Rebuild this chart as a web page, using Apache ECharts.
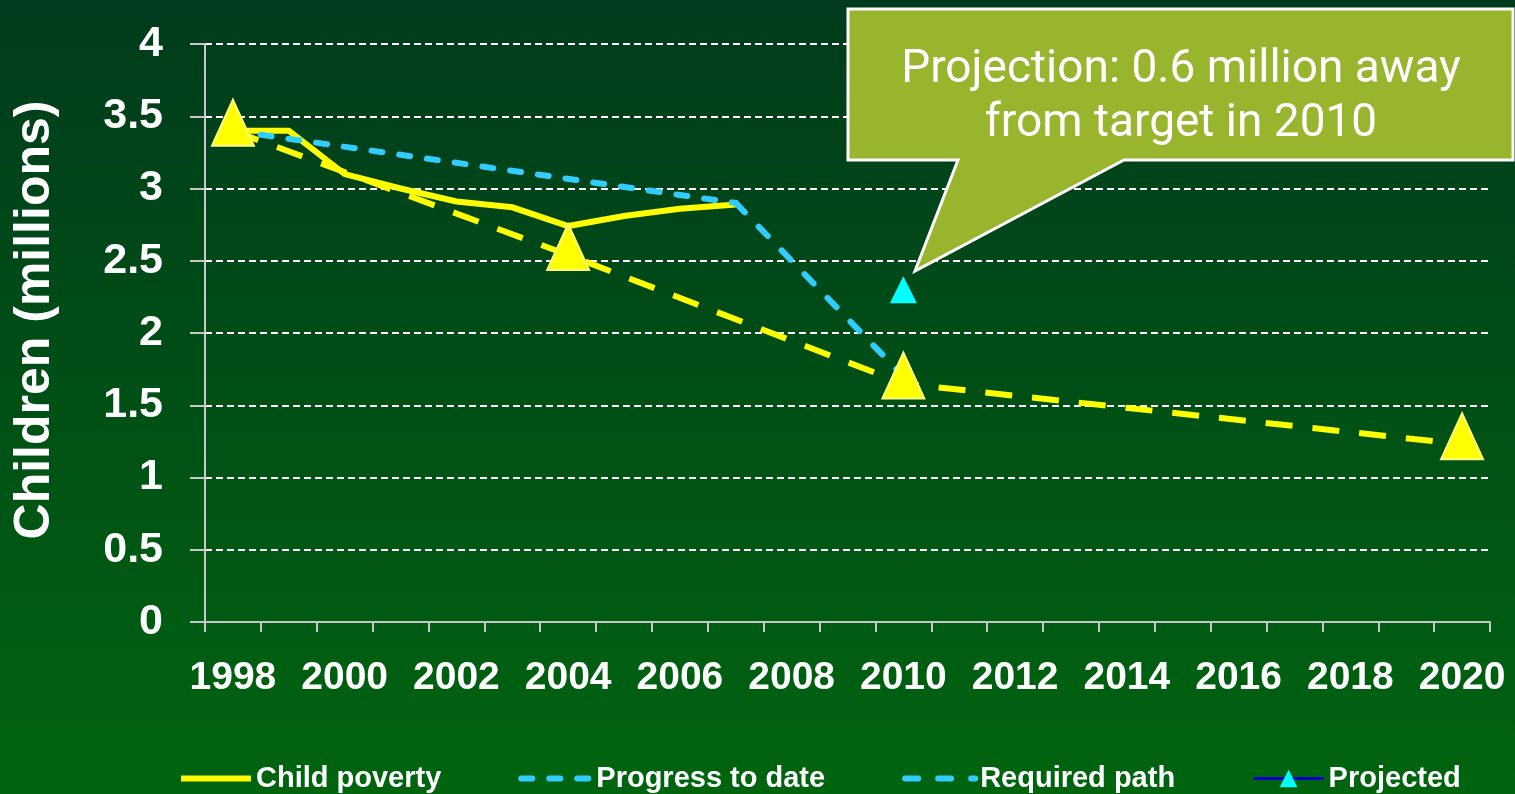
<!DOCTYPE html>
<html>
<head>
<meta charset="utf-8">
<script src="https://cdn.jsdelivr.net/npm/echarts@6/dist/echarts.min.js"></script>
<style>
html,body{margin:0;padding:0;background:#004a18;}
#chart{width:1515px;height:794px;}
</style>
</head>
<body>
<div id="chart"></div>
<script>
// ---- data ----
const years = ['1998','1999','2000','2001','2002','2003','2004','2005','2006','2007','2008','2009','2010','2011','2012','2013','2014','2015','2016','2017','2018','2019','2020'];
const childPoverty   = [3.40, 3.40, 3.10, 3.00, 2.91, 2.87, 2.74, 2.81, 2.86, 2.89, null, null, null, null, null, null, null, null, null, null, null, null, null];
const progressToDate = [3.40, null, null, null, null, null, null, null, null, 2.90, null, null, null, null, null, null, null, null, null, null, null, null, null];
const requiredPath   = [null, null, null, null, null, null, null, null, null, 2.90, null, null, 1.70, null, null, null, null, null, null, null, null, null, null];
const projected      = [null, null, null, null, null, null, null, null, null, null, null, null, 2.30, null, null, null, null, null, null, null, null, null, null];
const targets        = [3.40, null, null, null, null, null, 2.54, null, null, null, null, null, 1.65, null, null, null, null, null, null, null, null, null, 1.23];
const legendNames = ['Child poverty', 'Progress to date', 'Required path', 'Projected'];
const calloutLines = ['Projection: 0.6 million away', 'from target in 2010'];

const chart = echarts.init(document.getElementById('chart'), null, {renderer: 'canvas'});
const axisGray = '#c8c8c8';
const boldFont = 'Liberation Sans, Arial, sans-serif';
const option = {
  animation: false,
  backgroundColor: {
    type: 'linear', x: 0, y: 0, x2: 0, y2: 1,
    colorStops: [{offset: 0, color: '#003b1d'}, {offset: 1, color: '#00640f'}]
  },
  grid: {left: 205, right: 25, top: 44, bottom: 172},
  legend: {
    data: [
      {name: legendNames[0], itemStyle: {opacity: 0}, lineStyle: {width: 6}},
      {name: legendNames[1], itemStyle: {opacity: 0}, lineStyle: {width: 6}},
      {name: legendNames[2], itemStyle: {opacity: 0}, lineStyle: {width: 6}},
      {name: legendNames[3], lineStyle: {width: 3}}
    ],
    left: 173, top: 759,
    itemWidth: 70, itemHeight: 22, itemGap: 77,
    textStyle: {color: '#ffffff', fontSize: 29, fontWeight: 'bold', fontFamily: boldFont}
  },
  xAxis: {
    type: 'category', data: years, boundaryGap: true,
    axisLine: {lineStyle: {color: axisGray, width: 2}},
    axisTick: {show: true, interval: 0, length: 10, lineStyle: {color: axisGray, width: 2}},
    axisLabel: {interval: 1, color: '#ffffff', fontSize: 39, fontWeight: 'bold', fontFamily: boldFont, margin: 37},
    splitLine: {show: false}
  },
  yAxis: {
    type: 'value', min: 0, max: 4, interval: 0.5,
    name: 'Children (millions)', nameLocation: 'middle', nameRotate: 90, nameGap: 145,
    nameTextStyle: {color: '#ffffff', fontSize: 50, fontWeight: 'bold', fontFamily: boldFont, padding: [0, 0, 0, 26]},
    axisLine: {show: true, lineStyle: {color: axisGray, width: 2}},
    axisTick: {show: true, length: 15, lineStyle: {color: axisGray, width: 2}},
    axisLabel: {color: '#ffffff', fontSize: 43, fontWeight: 'bold', fontFamily: boldFont, margin: 42},
    splitLine: {show: true, lineStyle: {color: '#ffffff', width: 2, type: [7, 4]}}
  },
  series: [
    {
      name: 'Child poverty', type: 'line', data: childPoverty, symbol: 'none', z: 2,
      lineStyle: {color: '#ffff00', width: 6, join: 'miter'},
      itemStyle: {color: '#ffff00'}
    },
    {
      name: 'Target', type: 'line', data: targets, connectNulls: true, z: 3,
      symbol: 'none',
      lineStyle: {color: '#ffff00', width: 6, type: [27, 20], cap: 'butt'},
      itemStyle: {color: '#ffff00'}
    },
    {
      name: 'Progress to date', type: 'line', data: progressToDate, connectNulls: true, symbol: 'none', z: 4,
      lineStyle: {color: '#33ccff', width: 6, type: [11, 17], cap: 'round'},
      itemStyle: {color: '#33ccff'}
    },
    {
      name: 'Required path', type: 'line', data: requiredPath, connectNulls: true, symbol: 'none', z: 4,
      lineStyle: {color: '#33ccff', width: 6, type: [13, 20], cap: 'round'},
      itemStyle: {color: '#33ccff'}
    },
    {
      name: 'Projected', type: 'line', data: projected, z: 5,
      symbol: 'triangle', symbolSize: [27, 27], showSymbol: true,
      lineStyle: {color: '#0000cc', width: 3},
      itemStyle: {color: '#00ffff', borderWidth: 0}
    },
    {
      name: 'Target markers', type: 'line', data: targets, connectNulls: true, z: 6,
      symbol: 'triangle', symbolSize: [42, 46], symbolOffset: [0, -8], showSymbol: true,
      lineStyle: {width: 0, opacity: 0},
      itemStyle: {color: '#ffff00', borderColor: '#ffff88', borderWidth: 2}
    }
  ],
  graphic: [
    {
      type: 'polygon', z: 100,
      shape: {points: [[848, 9], [1513, 9], [1513, 160], [1124, 160], [915, 271], [958, 160], [848, 160]]},
      style: {fill: '#99b42d', stroke: '#ffffff', lineWidth: 3}
    },
    {
      type: 'text', z: 101, x: 1181, y: 70,
      style: {text: calloutLines[0], fill: '#ffffff', font: '46px Roboto, "Open Sans", sans-serif', textAlign: 'center', textVerticalAlign: 'middle'}
    },
    {
      type: 'text', z: 101, x: 1181, y: 124,
      style: {text: calloutLines[1], fill: '#ffffff', font: '46px Roboto, "Open Sans", sans-serif', textAlign: 'center', textVerticalAlign: 'middle'}
    }
  ]
};
chart.setOption(option);
</script>
</body>
</html>
